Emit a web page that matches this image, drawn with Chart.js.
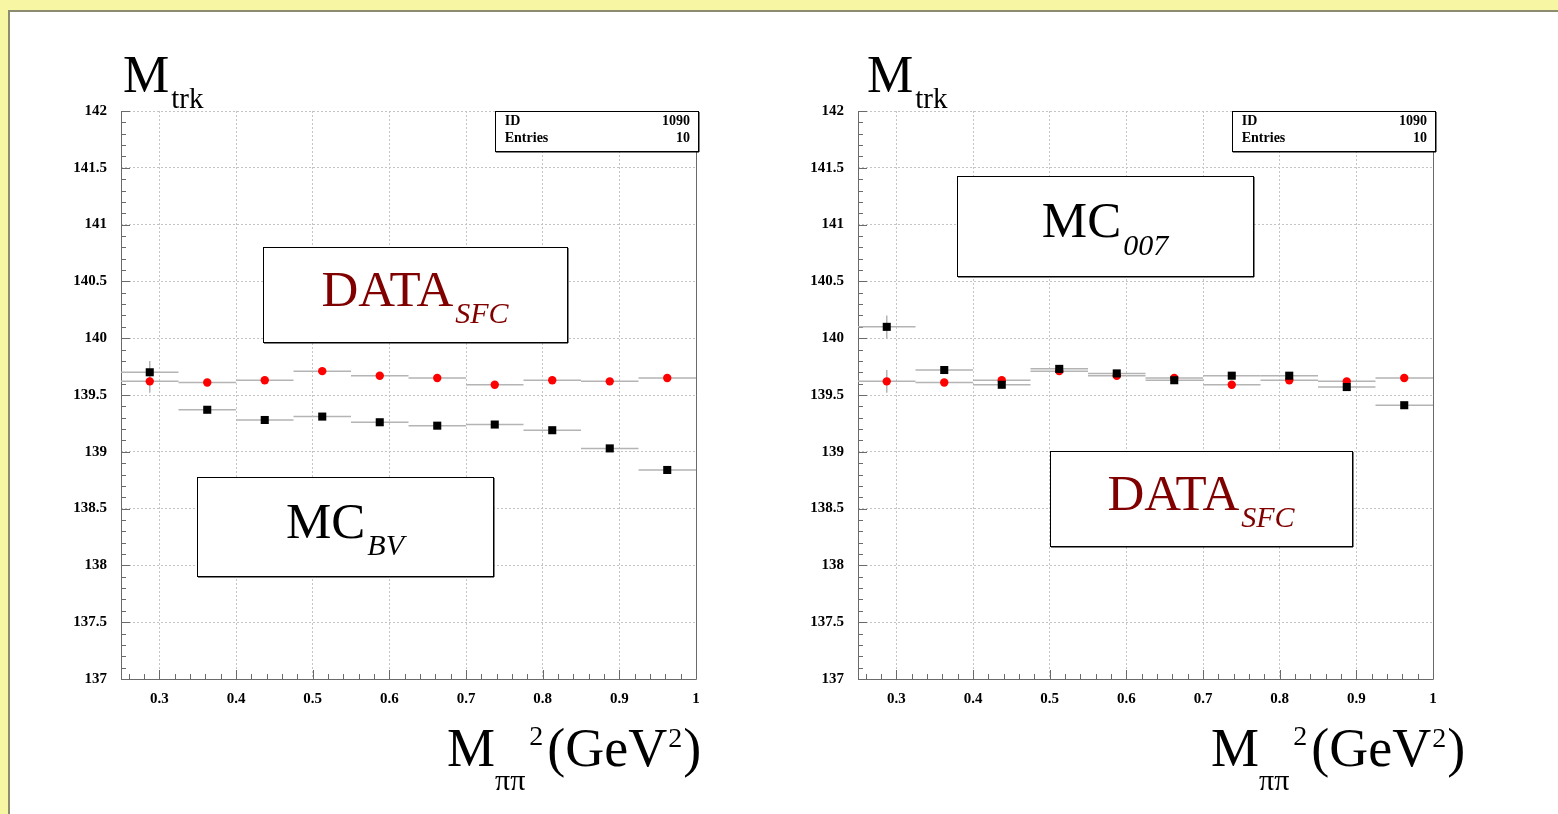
<!DOCTYPE html>
<html>
<head>
<meta charset="utf-8">
<script src="https://cdn.jsdelivr.net/npm/chart.js@4.4.1/dist/chart.umd.min.js"></script>
<style>
  html, body { margin: 0; padding: 0; width: 1558px; height: 814px; overflow: hidden; background: #f6f6a3; }
  #panel { position: absolute; left: 8px; top: 10px; width: 1550px; height: 804px; background: #fff;
           border-left: 2px solid #8c8c70; border-top: 2px solid #8c8c70; box-sizing: border-box; }
  canvas { position: absolute; top: 0; }
</style>
</head>
<body>
<div id="panel"></div>
<canvas id="plotBV" width="779" height="814" style="left:0px"></canvas>
<canvas id="plot007" width="779" height="814" style="left:737px"></canvas>
<script>
// Bin centres of M_pipi^2 (GeV^2), bin width 0.075
const binCenters = [0.2875, 0.3625, 0.4375, 0.5125, 0.5875, 0.6625, 0.7375, 0.8125, 0.8875, 0.9625];
const binHalfWidth = 0.0375;

// M_trk per bin (MeV)
const dataSFC    = [139.62, 139.61, 139.63, 139.71, 139.67, 139.65, 139.59, 139.63, 139.62, 139.65];
const dataSFCErr = [0.10, 0.03, 0.03, 0.03, 0.03, 0.03, 0.03, 0.03, 0.03, 0.03];
const mcBV       = [139.70, 139.37, 139.28, 139.31, 139.26, 139.23, 139.24, 139.19, 139.03, 138.84];
const mcBVErr    = [0.10, 0.03, 0.03, 0.03, 0.03, 0.03, 0.03, 0.03, 0.03, 0.03];
const mc007      = [140.10, 139.72, 139.59, 139.73, 139.69, 139.63, 139.67, 139.67, 139.57, 139.41];
const mc007Err   = [0.10, 0.03, 0.03, 0.03, 0.03, 0.03, 0.03, 0.03, 0.03, 0.03];

// Axis ticks
const xTicks = [0.3, 0.4, 0.5, 0.6, 0.7, 0.8, 0.9, 1];
const yTicks = [137, 137.5, 138, 138.5, 139, 139.5, 140, 140.5, 141, 141.5, 142];
const xRange = [0.25, 1.0];
const yRange = [137, 142];
const xMinorStep = 0.02;
const yMinorStep = 0.1;

// Statistics box content
const statRows = [["ID", "1090"], ["Entries", "10"]];

const SERIF = '"Liberation Serif", "Times New Roman", serif';

function fmt(v) { return String(+(+v).toFixed(3)); }

function drawPave(ctx, a, b) {
  const x = Math.round(a.left + b.fx0 * a.width), x1 = Math.round(a.left + b.fx1 * a.width);
  const y = Math.round(a.top + b.fy0 * a.height), y1 = Math.round(a.top + b.fy1 * a.height);
  const w = x1 - x, h = y1 - y;
  ctx.save();
  ctx.fillStyle = '#fff';
  ctx.fillRect(x, y, w, h);
  ctx.fillStyle = '#000';
  ctx.fillRect(x + 1, y + h, w, 1.5);
  ctx.fillRect(x + w, y + 1, 1.5, h);
  ctx.strokeStyle = '#000';
  ctx.lineWidth = 1;
  ctx.strokeRect(x + 0.5, y + 0.5, w, h);
  ctx.textBaseline = 'alphabetic';
  ctx.textAlign = 'left';
  ctx.font = '51px ' + SERIF;
  const mw = ctx.measureText(b.main).width;
  ctx.font = 'italic 30px ' + SERIF;
  const sw = ctx.measureText(b.sub).width;
  const start = x + (w - (mw + 2 + sw)) / 2;
  const base = y + h / 2 + 11;
  ctx.fillStyle = b.color;
  ctx.font = '51px ' + SERIF;
  ctx.fillText(b.main, start, base);
  ctx.font = 'italic 30px ' + SERIF;
  ctx.fillText(b.sub, start + mw + 2, base + 17.5);
  ctx.restore();
}

function drawStats(ctx, a) {
  const x = a.left + 0.65 * a.width, x1 = a.right + 2;
  const y = a.top, y1 = a.top + 40;
  ctx.save();
  ctx.fillStyle = '#fff';
  ctx.fillRect(x, y, x1 - x, y1 - y);
  ctx.fillStyle = '#000';
  ctx.fillRect(x + 1, y1, x1 - x, 1.5);
  ctx.fillRect(x1, y + 1, 1.5, y1 - y);
  ctx.strokeStyle = '#000';
  ctx.lineWidth = 1;
  ctx.strokeRect(Math.round(x) + 0.5, y + 0.5, Math.round(x1 - x), y1 - y);
  ctx.font = 'bold 14px ' + SERIF;
  ctx.textBaseline = 'alphabetic';
  statRows.forEach((r, i) => {
    const by = y + 14 + i * 17;
    ctx.textAlign = 'left';
    ctx.fillText(r[0], x + 10, by);
    ctx.textAlign = 'right';
    ctx.fillText(r[1], x1 - 8, by);
  });
  ctx.restore();
}

function drawTitle(ctx, a, dx) {
  ctx.save();
  ctx.fillStyle = '#000';
  ctx.textAlign = 'left';
  ctx.textBaseline = 'alphabetic';
  const x = a.left + dx;
  ctx.font = '52px ' + SERIF;
  const mw = ctx.measureText('M').width;
  ctx.fillText('M', x, a.top - 19);
  ctx.font = '29px ' + SERIF;
  ctx.fillText('trk', x + mw + 2, a.top - 3);
  ctx.restore();
}

function drawXTitle(ctx, a, dx) {
  ctx.save();
  ctx.fillStyle = '#000';
  ctx.textAlign = 'left';
  ctx.textBaseline = 'alphabetic';
  let x = a.right + dx;
  const base = a.bottom + 87;
  ctx.font = '54px ' + SERIF;
  ctx.fillText('M', x, base);
  x += ctx.measureText('M').width;
  ctx.font = '30px ' + SERIF;
  ctx.fillText('ππ', x, base + 24);
  x += ctx.measureText('ππ').width + 4;
  ctx.font = '28px ' + SERIF;
  ctx.fillText('2', x, base - 21);
  x += ctx.measureText('2').width + 4;
  ctx.font = '54px ' + SERIF;
  ctx.fillText('(GeV', x, base);
  x += ctx.measureText('(GeV').width + 1;
  ctx.font = '28px ' + SERIF;
  ctx.fillText('2', x, base - 19);
  x += ctx.measureText('2').width + 1;
  ctx.font = '54px ' + SERIF;
  ctx.fillText(')', x, base);
  ctx.restore();
}

const decorPlugin = {
  id: 'decor',
  beforeDatasetsDraw(chart, args, opts) {
    const ctx = chart.ctx, a = chart.chartArea;
    const xs = chart.scales.x, ys = chart.scales.y;
    ctx.save();
    // frame and axis lines
    ctx.strokeStyle = '#6a6a6a';
    ctx.lineWidth = 1;
    ctx.beginPath();
    ctx.moveTo(a.left + 0.5, a.top);
    ctx.lineTo(a.left + 0.5, a.bottom + 0.5);
    ctx.lineTo(a.right + 0.5, a.bottom + 0.5);
    ctx.lineTo(a.right + 0.5, a.top);
    ctx.stroke();
    // tick marks (inside the frame)
    ctx.beginPath();
    const nx = Math.round((xRange[1] - xRange[0]) / xMinorStep);
    for (let k = 0; k <= nx + 1; k++) {
      const v = Math.ceil(xRange[0] / xMinorStep) * xMinorStep + k * xMinorStep;
      if (v > xRange[1] + 1e-9) break;
      const px = Math.round(xs.getPixelForValue(v)) + 0.5;
      const major = xTicks.some(t => Math.abs(t - v) < 1e-6);
      ctx.moveTo(px, a.bottom);
      ctx.lineTo(px, a.bottom - (major ? 9 : 5));
    }
    const ny = Math.round((yRange[1] - yRange[0]) / yMinorStep);
    for (let k = 0; k <= ny; k++) {
      const v = yRange[0] + k * yMinorStep;
      const py = Math.round(ys.getPixelForValue(v)) + 0.5;
      const major = yTicks.some(t => Math.abs(t - v) < 1e-6);
      ctx.moveTo(a.left, py);
      ctx.lineTo(a.left + (major ? 9 : 5), py);
    }
    ctx.stroke();
    // error bars
    ctx.strokeStyle = '#b4b4b4';
    ctx.lineWidth = 1.5;
    chart.data.datasets.forEach(ds => {
      ds.data.forEach((p, i) => {
        const err = ds.yErr[i];
        const px = xs.getPixelForValue(p.x), py = ys.getPixelForValue(p.y);
        ctx.beginPath();
        ctx.moveTo(xs.getPixelForValue(p.x - binHalfWidth), py);
        ctx.lineTo(xs.getPixelForValue(p.x + binHalfWidth), py);
        ctx.moveTo(px, ys.getPixelForValue(p.y - err));
        ctx.lineTo(px, ys.getPixelForValue(p.y + err));
        ctx.stroke();
      });
    });
    ctx.restore();
  },
  afterDatasetsDraw(chart, args, opts) {
    const ctx = chart.ctx, a = chart.chartArea;
    drawStats(ctx, a);
    opts.paves.forEach(b => drawPave(ctx, a, b));
  },
  afterDraw(chart, args, opts) {
    const ctx = chart.ctx, a = chart.chartArea;
    drawTitle(ctx, a, opts.titleDx);
    drawXTitle(ctx, a, opts.xTitleDx);
  }
};

function makeChart(id, mcValues, mcErrs, paves, titleDx, xTitleDx) {
  const toPoints = vals => binCenters.map((x, i) => ({ x: x, y: vals[i] }));
  return new Chart(document.getElementById(id), {
    type: 'scatter',
    data: {
      datasets: [
        { label: 'MC', data: toPoints(mcValues), yErr: mcErrs,
          pointStyle: 'rect', pointRadius: 5.7, backgroundColor: '#000', borderWidth: 0 },
        { label: 'DATA SFC', data: toPoints(dataSFC), yErr: dataSFCErr,
          pointStyle: 'circle', pointRadius: 4.2, backgroundColor: '#f00', borderWidth: 0 }
      ]
    },
    options: {
      responsive: false,
      animation: false,
      events: [],
      layout: { padding: { left: 0, top: 111, right: 83, bottom: 95 } },
      plugins: {
        legend: { display: false },
        tooltip: { enabled: false },
        decor: { paves: paves, titleDx: titleDx, xTitleDx: xTitleDx }
      },
      scales: {
        x: {
          type: 'linear', min: xRange[0], max: xRange[1],
          afterBuildTicks: s => { s.ticks = xTicks.map(v => ({ value: v })); },
          afterFit: s => { s.height = 40; },
          grid: { color: '#c4c4c4', lineWidth: 1, drawTicks: false, tickLength: 0 },
          border: { display: false, dash: [2, 2] },
          ticks: { padding: 11, color: '#000', font: { family: SERIF, size: 15, weight: 'bold' },
                   maxRotation: 0, autoSkip: false, callback: v => fmt(v) }
        },
        y: {
          type: 'linear', min: yRange[0], max: yRange[1],
          afterBuildTicks: s => { s.ticks = yTicks.map(v => ({ value: v })); },
          afterFit: s => { s.width = 121; },
          grid: { color: '#c4c4c4', lineWidth: 1, drawTicks: false, tickLength: 0 },
          border: { display: false, dash: [2, 2] },
          ticks: { padding: 14, color: '#000', font: { family: SERIF, size: 15, weight: 'bold' },
                   autoSkip: false, callback: v => fmt(v) }
        }
      }
    },
    plugins: [decorPlugin]
  });
}

const DARK_RED = '#800000';

makeChart('plotBV', mcBV, mcBVErr, [
  { fx0: 0.2475, fx1: 0.775, fy0: 0.239, fy1: 0.406, main: 'DATA', sub: 'SFC', color: DARK_RED },
  { fx0: 0.1327, fx1: 0.6475, fy0: 0.644, fy1: 0.8187, main: 'MC', sub: 'BV', color: '#000' }
], 2, -249);

makeChart('plot007', mc007, mc007Err, [
  { fx0: 0.1727, fx1: 0.6864, fy0: 0.1144, fy1: 0.2905, main: 'MC', sub: '007', color: '#000' },
  { fx0: 0.334, fx1: 0.859, fy0: 0.5986, fy1: 0.7658, main: 'DATA', sub: 'SFC', color: DARK_RED }
], 9, -222);
</script>
</body>
</html>
